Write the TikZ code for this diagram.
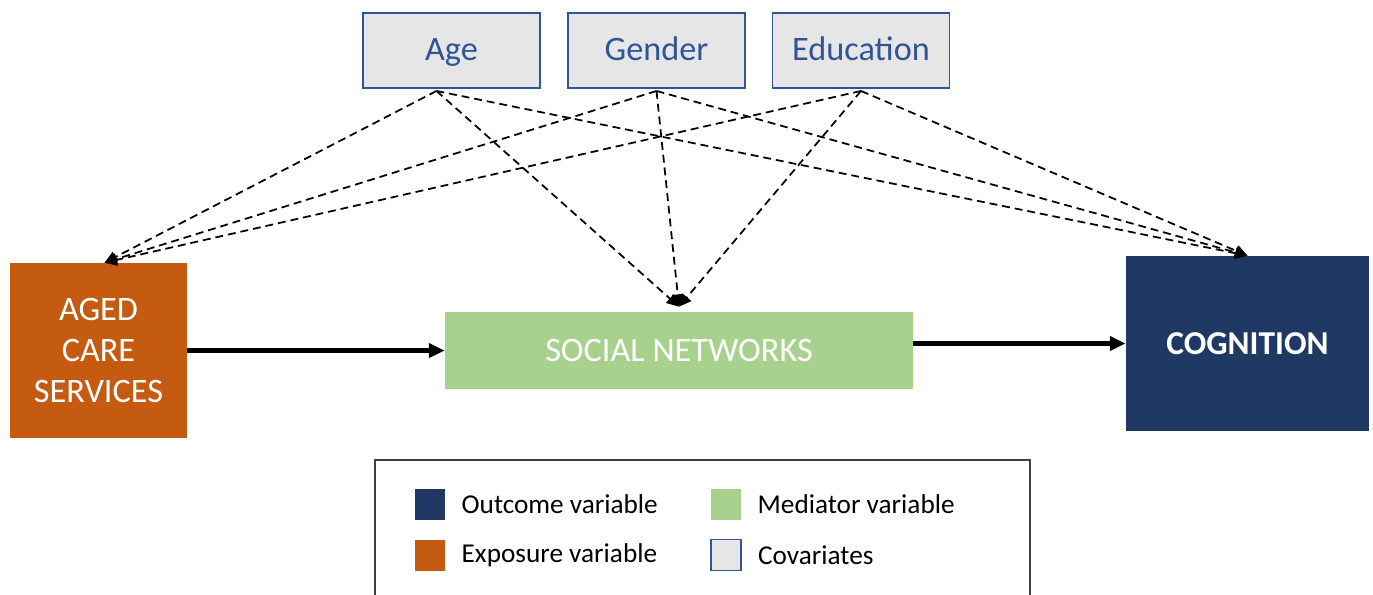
\documentclass[tikz,border=0pt]{standalone}
\usepackage{fontspec}
\setmainfont{Carlito}
\usepackage{xcolor}
\usetikzlibrary{arrows.meta, positioning}
\definecolor{exposure}{HTML}{C55A11}
\definecolor{outcome}{HTML}{1F3864}
\definecolor{mediator}{HTML}{A9D18E}
\definecolor{covfill}{HTML}{E7E6E6}
\definecolor{covline}{HTML}{2F5597}
\definecolor{frameline}{HTML}{404040}

\begin{document}
\begin{tikzpicture}[
        x=0.02cm, y=-0.02cm,
        box/.style={rectangle, minimum width=3.54cm, minimum height=1.5cm, align=center, inner sep=0pt},
        covar/.style={box, draw=covline, line width=1.1pt, fill=covfill, text=covline, text height=1.15em, text depth=0.02em, font=\fontsize{19.5}{23}\selectfont},
        mainbox/.style={box, text=white, font=\fontsize{19.5}{23.2}\selectfont},
        key/.style={rectangle, minimum width=0.6cm, minimum height=0.62cm, inner sep=0pt},
        keytext/.style={anchor=west, inner sep=0pt, font=\fontsize{15.5}{18}\selectfont},
        arrow/.style={-{Triangle[length=9pt, width=8pt]}, line width=2.3pt},
        cov/.style={-{Triangle[length=7pt, width=6.5pt]}, line width=1pt, dash pattern=on 4.5pt off 2.8pt}
    ]
        \useasboundingbox (0,0) rectangle (1373,595);

        % Nodes
        \node[covar] (age) at (451.5,50.5) {Age};
        \node[covar] (gender) at (656.5,50.5) {Gender};
        \node[covar] (education) at (861,50.5) {Education};
        \node[mainbox, fill=exposure, minimum height=3.5cm] (aged) at (98.5,350.5) {AGED\\CARE\\SERVICES};
        \node[mainbox, fill=mediator, minimum width=9.36cm, minimum height=1.54cm] (social) at (679,350.5) {SOCIAL NETWORKS};
        \node[mainbox, fill=outcome, minimum width=4.86cm, minimum height=3.5cm, font=\fontsize{19}{23}\selectfont\bfseries] (cog) at (1247.5,343.5) {COGNITION};

        % Legend
        \node[draw=frameline, line width=0.9pt, minimum width=13.1cm, minimum height=3.2cm] (legend) at (702.5,540) {};
        \node[key, fill=outcome] (keyout) at (430,504.5) {};
        \node[keytext, right=0.32cm of keyout] (textout) {Outcome variable};
        \node[key, fill=exposure] (keyexp) at (430,555) {};
        \node[keytext, right=0.32cm of keyexp] (textexp) {Exposure variable};
        \node[key, fill=mediator] (keymed) at (726,504.5) {};
        \node[keytext, right=0.32cm of keymed] (textmed) {Mediator variable};
        \node[key, draw=covline, line width=1pt, fill=covfill] (keycov) at (726,555) {};
        \node[keytext, right=0.32cm of keycov] (textcov) {Covariates};

        % Arrows
        \draw[arrow] (aged) -- (social);
        \draw[arrow] (social.east |- cog.west) -- (cog.west);

        % Covariate arrows
        \draw[cov] ([xshift=-0.3cm, yshift=-0.04cm]age.south) -- ([xshift=0.12cm]aged.north);
        \draw[cov] ([xshift=-0.3cm, yshift=-0.04cm]age.south) -- ([yshift=0.1cm]social.north);
        \draw[cov] ([xshift=-0.3cm, yshift=-0.04cm]age.south) -- (cog.north);
        \draw[cov] ([yshift=-0.04cm]gender.south) -- ([xshift=0.12cm]aged.north);
        \draw[cov] ([yshift=-0.04cm]gender.south) -- ([yshift=0.1cm]social.north);
        \draw[cov] ([yshift=-0.04cm]gender.south) -- (cog.north);
        \draw[cov] ([yshift=-0.04cm]education.south) -- ([xshift=0.12cm]aged.north);
        \draw[cov] ([yshift=-0.04cm]education.south) -- ([yshift=0.1cm]social.north);
        \draw[cov] ([yshift=-0.04cm]education.south) -- (cog.north);
    \end{tikzpicture}
\end{document}
